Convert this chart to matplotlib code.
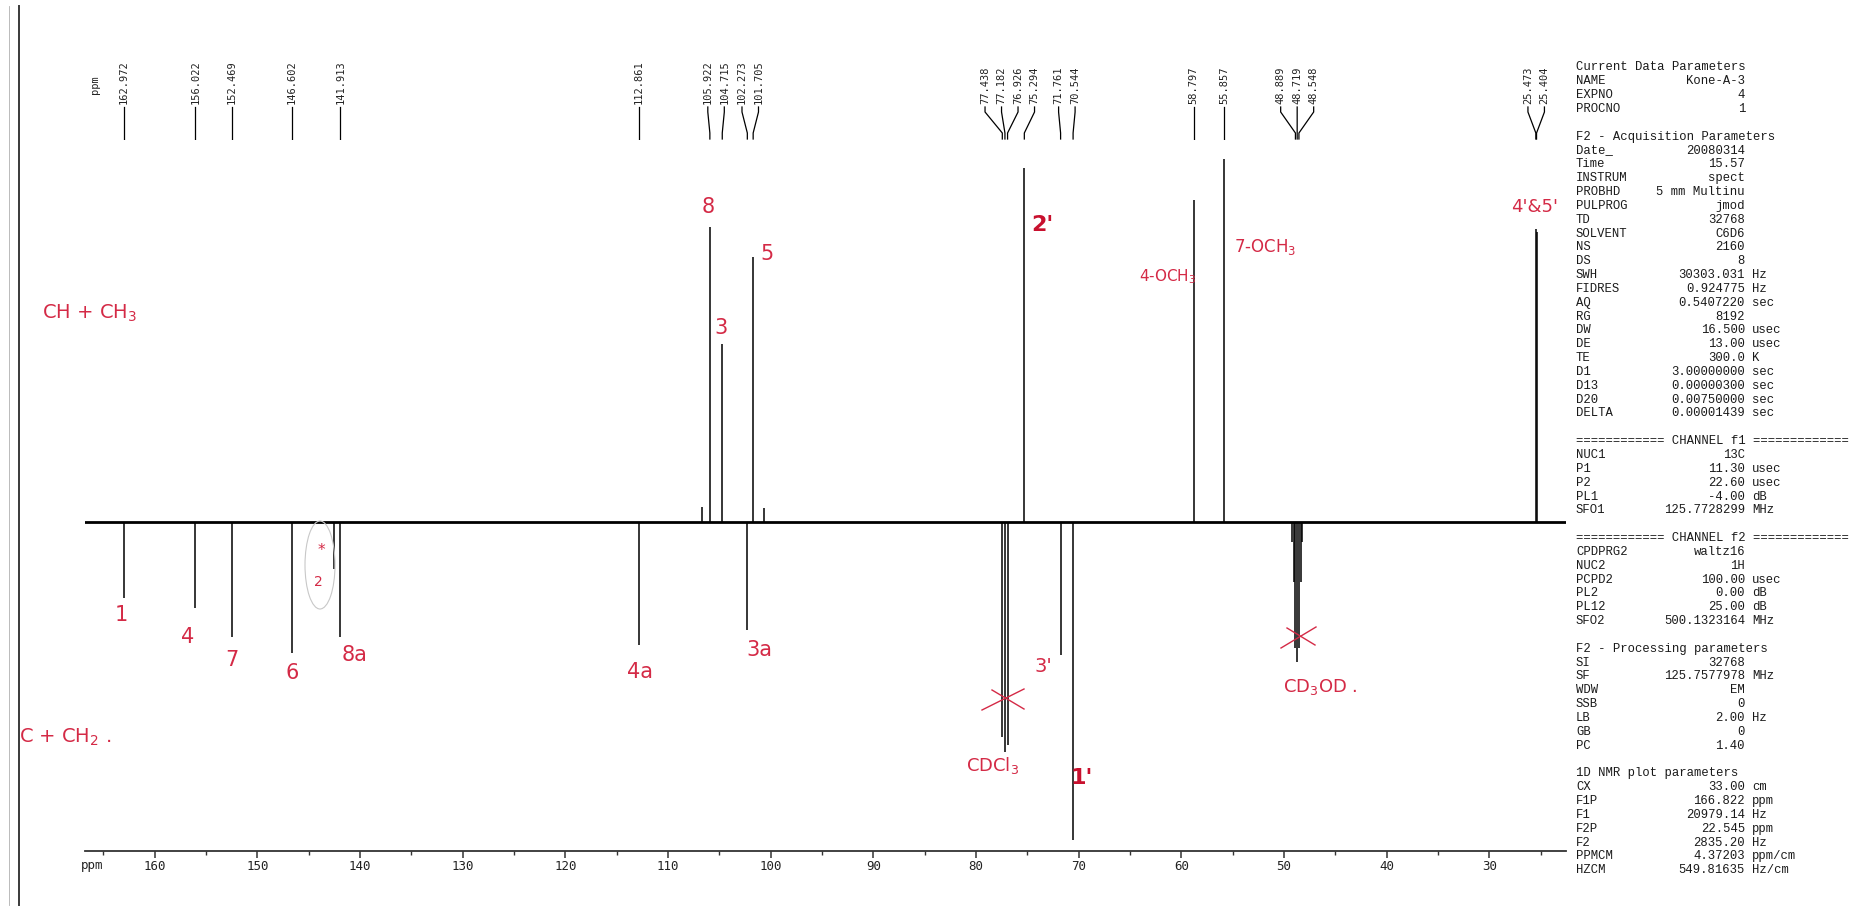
import matplotlib
matplotlib.use("Agg")
import matplotlib.pyplot as plt
from matplotlib.patches import Ellipse
from matplotlib.ticker import MultipleLocator, FixedLocator

# ---------------- data ----------------
peak_ppm = [162.972, 156.022, 152.469, 146.602, 142.49, 141.913, 112.861,
            106.69, 105.922, 104.715, 102.273, 101.705, 100.65,
            77.438, 77.182, 76.926, 75.294, 71.761, 70.544,
            58.797, 55.857,
            49.230, 49.060, 48.889, 48.719, 48.548, 48.377, 48.207,
            25.473, 25.404]
peak_int = [-76, -86, -115, -131, -47, -115, -123,
            15, 295, 178, -108, 265, 14,
            -215, -230, -223, 354, -133, -318,
            322, 363,
            -20, -60, -126, -140, -126, -60, -20,
            293, 290]
label_ppm = [162.972, 156.022, 152.469, 146.602, 141.913, 112.861,
             105.922, 104.715, 102.273, 101.705,
             77.438, 77.182, 76.926, 75.294, 71.761, 70.544,
             58.797, 55.857, 48.889, 48.719, 48.548, 25.473, 25.404]
x_left_ppm, x_right_ppm = 166.822, 22.545
major_ticks = [160, 150, 140, 130, 120, 110, 100, 90, 80, 70, 60, 50, 40, 30]
minor_ticks = [165, 155, 145, 135, 125, 115, 105, 95, 85, 75, 65, 55, 45, 35, 25]

param_names = ["Current Data Parameters", "NAME", "EXPNO", "PROCNO", "",
               "F2 - Acquisition Parameters", "Date_", "Time", "INSTRUM", "PROBHD",
               "PULPROG", "TD", "SOLVENT", "NS", "DS", "SWH", "FIDRES", "AQ", "RG",
               "DW", "DE", "TE", "D1", "D13", "D20", "DELTA", "",
               "============ CHANNEL f1 =============", "NUC1", "P1", "P2", "PL1", "SFO1", "",
               "============ CHANNEL f2 =============", "CPDPRG2", "NUC2", "PCPD2", "PL2",
               "PL12", "SFO2", "",
               "F2 - Processing parameters", "SI", "SF", "WDW", "SSB", "LB", "GB", "PC", "",
               "1D NMR plot parameters", "CX", "F1P", "F1", "F2P", "F2", "PPMCM", "HZCM"]
param_values = ["", "Kone-A-3", "4", "1", "",
                "", "20080314", "15.57", "spect", "5 mm Multinu",
                "jmod", "32768", "C6D6", "2160", "8", "30303.031", "0.924775", "0.5407220", "8192",
                "16.500", "13.00", "300.0", "3.00000000", "0.00000300", "0.00750000", "0.00001439", "",
                "", "13C", "11.30", "22.60", "-4.00", "125.7728299", "",
                "", "waltz16", "1H", "100.00", "0.00",
                "25.00", "500.1323164", "",
                "", "32768", "125.7577978", "EM", "0", "2.00", "0", "1.40", "",
                "", "33.00", "166.822", "20979.14", "22.545", "2835.20", "4.37203", "549.81635"]
param_units = ["", "", "", "", "",
               "", "", "", "", "",
               "", "", "", "", "", "Hz", "Hz", "sec", "",
               "usec", "usec", "K", "sec", "sec", "sec", "sec", "",
               "", "", "usec", "usec", "dB", "MHz", "",
               "", "", "", "usec", "dB",
               "dB", "MHz", "",
               "", "", "MHz", "", "", "Hz", "", "", "",
               "", "cm", "ppm", "Hz", "ppm", "Hz", "ppm/cm", "Hz/cm"]

# ---------------- layout ----------------
W, H = 1858, 918
fig = plt.figure(figsize=(W / 100, H / 100), dpi=100)
fig.patch.set_facecolor("white")

ax_l, ax_r = 84.6, 1565.9          # px
ax_top, ax_bot = 140.0, 850.7      # px from top
base_y = 521.7
ax = fig.add_axes([ax_l / W, 1 - ax_bot / H, (ax_r - ax_l) / W, (ax_bot - ax_top) / H])
ax.set_xlim(x_left_ppm, x_right_ppm)
ax.set_ylim(-(ax_bot - base_y), base_y - ax_top)
ax.set_facecolor("none")
for s in ["top", "left", "right"]:
    ax.spines[s].set_visible(False)
ax.spines["bottom"].set_color("#333333")
ax.spines["bottom"].set_linewidth(1.3)
ax.set_yticks([])
ax.xaxis.set_major_locator(FixedLocator(major_ticks))
ax.xaxis.set_minor_locator(FixedLocator(minor_ticks))
ax.set_xticklabels([str(t) for t in major_ticks])
ax.tick_params(axis="x", which="major", direction="out", length=5, width=1.1,
               color="#333333", labelsize=9, pad=1.5)
ax.tick_params(axis="x", which="minor", direction="out", length=3, width=1.0, color="#333333")
for lab in ax.get_xticklabels():
    lab.set_family("DejaVu Sans Mono")
    lab.set_color("#222222")

# spectrum: baseline + peak lines
ax.axhline(0, color="black", lw=2.0, zorder=2)
ax.vlines(peak_ppm, 0, peak_int, color="black", lw=1.1, zorder=3)

# peak label area
ax_lab = fig.add_axes([ax_l / W, 1 - ax_top / H, (ax_r - ax_l) / W, ax_top / H])
ax_lab.set_xlim(x_left_ppm, x_right_ppm)
ax_lab.set_ylim(ax_top, 0)
ax_lab.axis("off")

px_per_ppm = (ax_r - ax_l) / (x_left_ppm - x_right_ppm)
gap = 16.5 / px_per_ppm


def spread(vals, g):
    groups = [{"items": [v], "center": v} for v in vals]
    while True:
        merged = False
        out = [groups[0]]
        for grp in groups[1:]:
            prev = out[-1]
            prev_last = prev["center"] - (len(prev["items"]) - 1) / 2 * g
            first = grp["center"] + (len(grp["items"]) - 1) / 2 * g
            if prev_last - first < g:
                items = prev["items"] + grp["items"]
                out[-1] = {"items": items, "center": sum(items) / len(items)}
                merged = True
            else:
                out.append(grp)
        groups = out
        if not merged:
            break
    pos = []
    for grp in groups:
        n = len(grp["items"])
        for i in range(n):
            pos.append(grp["center"] + ((n - 1) / 2 - i) * g)
    return pos


lab_pos = spread(sorted(label_ppm, reverse=True), gap)
for pk, lp in zip(sorted(label_ppm, reverse=True), lab_pos):
    ax_lab.plot([lp, lp, pk, pk], [107, 112, 133, 139], color="black", lw=0.9,
                solid_joinstyle="round")
    ax_lab.text(lp, 104.5, f"{pk:.3f}", rotation=90, ha="center", va="bottom",
                fontsize=7.5, family="DejaVu Sans Mono", color="#222222")

# overlay in pixel coordinates
ov = fig.add_axes([0, 0, 1, 1])
ov.set_xlim(0, W)
ov.set_ylim(H, 0)
ov.axis("off")
ov.set_facecolor("none")

ov.text(95, 84.5, "ppm", rotation=90, ha="center", va="center", fontsize=7.5,
        family="DejaVu Sans Mono", color="#222222")
ov.text(92, 865, "ppm", ha="center", va="center", fontsize=9,
        family="DejaVu Sans Mono", color="#222222")

# scan border
ov.plot([19, 19], [6, 905], color="#3a3a3a", lw=1.4)
ov.plot([9, 9], [6, 905], color="#b0b0b0", lw=0.6)

# parameter panel
row0, drow = 67.5, 13.84
x_name, x_val, x_unit = 1576, 1745, 1752
pfont = dict(family="Liberation Mono", fontsize=8.85, color="#1a1a1a", va="center")
for i, (n, v, u) in enumerate(zip(param_names, param_values, param_units)):
    y = row0 + i * drow
    if n:
        ov.text(x_name, y, n, ha="left", **pfont)
    if v:
        ov.text(x_val, y, v, ha="right", **pfont)
    if u:
        ov.text(x_unit, y, u, ha="left", **pfont)

# handwritten red annotations
red = "#d42a46"
dred = "#c8102e"
hw = dict(family="DejaVu Sans", color=red, ha="center", va="center")
notes = [("CH + CH$_3$", 90, 313, 14), ("C + CH$_2$ .", 65, 737, 14),
         ("1", 121, 615, 15), ("4", 188, 637, 15), ("7", 232, 660, 15),
         ("6", 292, 673, 15), ("8a", 355, 655, 15), ("*", 321, 550, 11), ("2", 318, 582, 10),
         ("4a", 640, 672, 15), ("3a", 759, 650, 15),
         ("8", 708, 207, 15), ("3", 721, 328, 15), ("5", 767, 254, 15),
         ("4-OCH$_3$", 1168, 277, 11), ("7-OCH$_3$", 1265, 247, 12), ("4'&5'", 1535, 207, 13),
         ("3'", 1043, 667, 14), ("CDCl$_3$", 993, 765, 13), ("CD$_3$OD .", 1320, 687, 13)]
for t, x, y, s in notes:
    ov.text(x, y, t, fontsize=s, **hw)
ov.text(1042, 225, "2'", fontsize=16, family="DejaVu Sans", color=dred,
        fontweight="bold", ha="center", va="center")
ov.text(1082, 778, "1'", fontsize=16, family="DejaVu Sans", color=dred,
        fontweight="bold", ha="center", va="center")

ov.add_patch(Ellipse((320, 565), 30, 88, fill=False, edgecolor="#c8c8c8", lw=0.8))
# cross marks on solvent peaks
ov.plot([982, 1024], [710, 689], color=red, lw=1.0)
ov.plot([992, 1024], [690, 709], color=red, lw=1.0)
ov.plot([1281, 1316], [648, 627], color=red, lw=1.0)
ov.plot([1287, 1315], [628, 645], color=red, lw=1.0)

fig.savefig("out.png", dpi=100, facecolor="white")
